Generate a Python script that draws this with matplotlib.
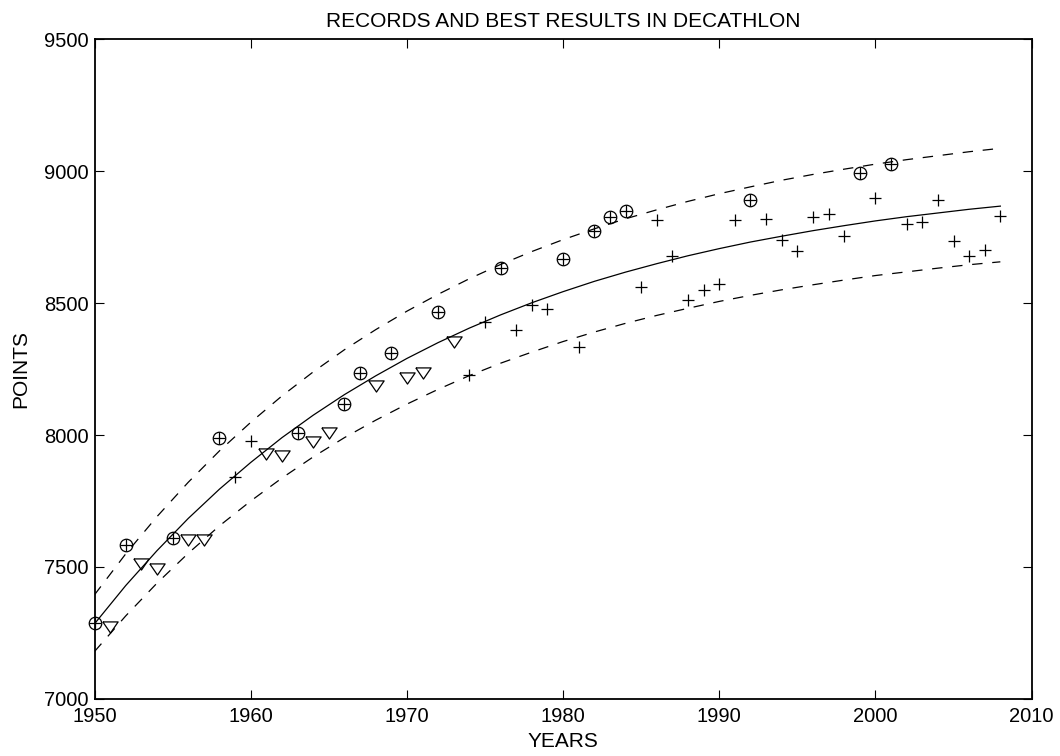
import matplotlib
matplotlib.use("Agg")
import matplotlib.pyplot as plt

plt.rcParams['font.family'] = ['Liberation Sans', 'DejaVu Sans']
plt.rcParams['lines.scale_dashes'] = False

# World records (circle with plus)
rec_years = [1950, 1952, 1955, 1958, 1963, 1966, 1967, 1969, 1972, 1976,
             1980, 1982, 1983, 1984, 1992, 1999, 2001]
rec_points = [7287, 7585, 7608, 7990, 8009, 8119, 8234, 8310, 8466, 8634,
              8667, 8774, 8825, 8847, 8891, 8994, 9026]

# Best results of the year, early period (triangles)
tri_years = [1951, 1953, 1954, 1956, 1957, 1961, 1962, 1964, 1965, 1968,
             1970, 1971, 1973]
tri_points = [7274, 7510, 7494, 7604, 7604, 7928, 7919, 7974, 8007, 8186,
              8216, 8234, 8352]

# Best results of the year (plus signs)
best_years = [1959, 1960, 1974, 1975, 1977, 1978, 1979, 1981, 1985, 1986,
              1987, 1988, 1989, 1990, 1991, 1993, 1994, 1995, 1996, 1997,
              1998, 2000, 2002, 2003, 2004, 2005, 2006, 2007, 2008]
best_points = [7841, 7979, 8229, 8429, 8399, 8494, 8476, 8334, 8559, 8813,
               8679, 8513, 8548, 8573, 8813, 8817, 8738, 8696, 8824, 8838,
               8752, 8897, 8800, 8806, 8890, 8733, 8677, 8699, 8829]

# Trend line and its upper / lower bands
trend_years = [1950, 1952, 1954, 1956, 1958, 1960, 1962, 1964, 1966, 1968,
               1970, 1972, 1974, 1976, 1978, 1980, 1982, 1984, 1986, 1988,
               1990, 1992, 1994, 1996, 1998, 2000, 2002, 2004, 2006, 2008]
trend_mid = [7285, 7430, 7562, 7684, 7795, 7896, 7990, 8075, 8153, 8224,
             8290, 8350, 8405, 8455, 8501, 8543, 8582, 8617, 8649, 8679,
             8706, 8731, 8753, 8774, 8793, 8811, 8827, 8841, 8855, 8867]
trend_hi = [7395, 7550, 7691, 7821, 7940, 8048, 8148, 8239, 8323, 8399,
            8469, 8533, 8592, 8646, 8695, 8740, 8781, 8819, 8853, 8885,
            8914, 8940, 8965, 8987, 9007, 9026, 9043, 9058, 9073, 9086]
trend_lo = [7180, 7315, 7439, 7552, 7656, 7750, 7837, 7917, 7990, 8056,
            8117, 8173, 8225, 8272, 8314, 8354, 8390, 8423, 8453, 8480,
            8506, 8529, 8550, 8569, 8587, 8604, 8618, 8632, 8645, 8656]

fig = plt.figure(figsize=(10.6, 7.56), dpi=100)
ax = fig.add_axes([0.0892, 0.0754, 0.884, 0.873])

ax.plot(trend_years, trend_mid, color='black', linewidth=0.9)
ax.plot(trend_years, trend_hi, color='black', linewidth=0.9, dashes=(7.5, 7))
ax.plot(trend_years, trend_lo, color='black', linewidth=0.9, dashes=(7.5, 7))

# circle with a plus inside
ax.plot(rec_years, rec_points, linestyle='none', marker='o', markersize=9,
        markerfacecolor='none', markeredgecolor='black', markeredgewidth=0.9,
        clip_on=False)
ax.plot(rec_years, rec_points, linestyle='none', marker='+', markersize=9,
        markeredgecolor='black', markeredgewidth=0.9, clip_on=False)

# flat downward triangle
tri_marker = [(-1, 0.73), (1, 0.73), (0, -0.73), (-1, 0.73)]
ax.plot(tri_years, tri_points, linestyle='none', marker=tri_marker,
        markersize=11, markerfacecolor='none', markeredgecolor='black',
        markeredgewidth=0.9, clip_on=False)

ax.plot(best_years, best_points, linestyle='none', marker='+', markersize=9,
        markeredgecolor='black', markeredgewidth=0.9)

ax.set_xlim(1950, 2010)
ax.set_ylim(7000, 9500)
ax.set_xticks(range(1950, 2011, 10))
ax.set_yticks(range(7000, 9501, 500))
ax.tick_params(direction='in', length=6.8, width=0.8, top=True, right=True,
               labelsize=14.5)
ax.tick_params(axis='x', pad=6)
ax.tick_params(axis='y', pad=4)
for side in ax.spines.values():
    side.set_linewidth(1.3)

ax.set_xlabel('YEARS', fontsize=15, labelpad=4)
ax.set_ylabel('POINTS', fontsize=15, labelpad=10)
ax.set_title('RECORDS AND BEST RESULTS IN DECATHLON', fontsize=15, pad=9)

fig.savefig('out.png', dpi=100)
